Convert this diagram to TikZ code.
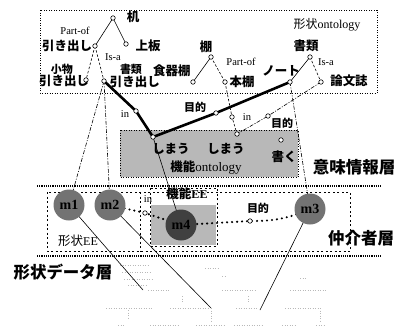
\documentclass[tikz,border=0pt]{standalone}
\usepackage{fontspec}
\setmainfont{Liberation Serif}
\newfontfamily\jp{Noto Sans CJK JP}
\usetikzlibrary{backgrounds}
\pgfdeclarelayer{bgzero}
\pgfsetlayers{bgzero,background,main}
\begin{document}
\begin{tikzpicture}[x=1pt,y=-1pt,
 dot/.style={circle,draw,fill=white,inner sep=0pt,minimum size=4.5pt,line width=0.6pt},
 jl/.style={font=\jp\bfseries\fontsize{12.5}{13}\selectfont,inner sep=0pt},
 js/.style={font=\jp\bfseries\fontsize{11}{12}\selectfont,inner sep=0pt},
 jbig/.style={font=\jp\bfseries\fontsize{16.5}{17}\selectfont,inner sep=0pt},
 sl/.style={font=\fontsize{10.5}{11}\selectfont,inner sep=0pt},
 thinline/.style={line width=0.6pt},
 dd/.style={line width=0.6pt,dash pattern=on 4pt off 1.5pt on 1pt off 1.5pt},
 dsh/.style={line width=0.6pt,dash pattern=on 2.5pt off 1.8pt},
 thickline/.style={line width=2.6pt,line join=round},
 sepline/.style={line width=1.1pt,dash pattern=on 1.2pt off 1pt},
 boxline/.style={line width=0.6pt,dash pattern=on 1pt off 1.5pt},
 eebox/.style={line width=0.6pt,dash pattern=on 2pt off 2.5pt},
 mn/.style={circle,fill=black!55,minimum size=31pt,inner sep=0pt,font=\fontsize{14}{14}\selectfont\bfseries},
 bigdots/.style={line width=2.4pt,line cap=round,dash pattern=on 0pt off 5pt},
 faint/.style={gray!55,line width=0.5pt,dash pattern=on 1pt off 1.5pt},
]
\useasboundingbox (0,0) rectangle (400,327);

% ---------- boxes ----------
\begin{pgfonlayer}{bgzero}
\draw[boxline] (40,10) rectangle (377,93);
\filldraw[fill=black!28,boxline] (120,130) rectangle (298,177);
\draw[sepline] (37,186) -- (382,186);
\draw[sepline] (37,256) -- (382,256);
\draw[eebox] (47,192) rectangle (350,251);
\draw[eebox] (140,192) -- (140,251);
\draw[eebox] (150,188) rectangle (217,246);
\fill[black!28] (151,205) rectangle (216,245);
% faint shape data
\draw[faint] (120,265) -- (150,265) (122,272) -- (152,272) (124,279) -- (154,279) (128,285) -- (146,285);
\draw[faint] (205,268) -- (218,268) (222,276) -- (226,276) (300,278) -- (306,278);
\draw[faint] (148,290) -- (170,290) (222,290) -- (256,290) (290,290) -- (326,290);
\draw[faint] (106,308) -- (152,308) (170,308) -- (208,308) (236,308) -- (258,308) (285,308) -- (322,308);
\draw[faint] (118,325) -- (124,325) (150,325) -- (180,325) (196,325) -- (226,325) (234,325) -- (262,325) (282,325) -- (296,325) (316,325) -- (326,325);
\draw[faint] (211,308) -- (211,322) (320,308) -- (320,322) (128,310) -- (128,318) (182,296) -- (182,302) (248,296) -- (248,302);
\end{pgfonlayer}

% ---------- ontology nodes ----------
\node[dot] (tsukue) at (113,18) {};
\node[dot] (hiki) at (95,46) {};
\node[dot] (uwaita) at (126,44) {};
\node[dot] (kohiki) at (86,80) {};
\node[dot] (shohiki) at (104,81) {};
\node[dot] (tana) at (211,57) {};
\node[dot] (shokki) at (193,82) {};
\node[dot] (hondana) at (225,82) {};
\node[dot] (shorui) at (310,57) {};
\node[dot] (note) at (290,82) {};
\node[dot] (ronbun) at (321,82) {};
\node[dot] (inA) at (136,111) {};
\node[dot] (purA) at (216,113) {};
\node[dot] (inB) at (232,117) {};
\node[dot] (purB) at (268,116) {};
\node[dot] (shimau1) at (153,137) {};
\node[dot] (shimau2) at (237,134) {};
\node[dot] (kaku) at (281,140) {};

% ---------- mediator nodes ----------
\node[mn] (m1) at (69,205) {m1};
\node[mn] (m2) at (110,205) {m2};
\node[mn,fill=black!75] (m4) at (181,225) {m4};
\node[mn] (m3) at (310,209) {m3};
\node[dot] (inM) at (145,213) {};
\node[dot] (purM) at (250,221) {};
\coordinate (b1) at (143,290);
\coordinate (b2) at (211,308);
\coordinate (b3) at (260,310);

% ---------- connectors ----------
\begin{pgfonlayer}{background}
\draw[thinline] (tsukue.center) -- (hiki.center);
\draw[thinline] (tsukue.center) -- (uwaita.center);
\draw[dsh] (hiki.center) -- (kohiki.center);
\draw[dsh] (hiki.center) -- (shohiki.center);
\draw[thinline] (tana.center) -- (shokki.center);
\draw[dsh] (tana.center) -- (hondana.center);
\draw[thinline] (shorui.center) -- (note.center);
\draw[dsh] (shorui.center) -- (ronbun.center);
\draw[thickline] (shohiki.center) -- (inA.center) -- (shimau1.center) -- (purA.center) -- (note.center);
\draw[dd] (shohiki.center) -- (m1.center);
\draw[dd] (shohiki.center) -- (m2.center);
\draw[dd] (note.center) -- (m3.center);
\draw[dsh] (hondana.center) -- (inB.center) -- (shimau2.center);
\draw[dd] (ronbun.center) -- (purB.center) -- (shimau2.center);
\draw[thinline] (shimau1.center) -- (m4.center);
\draw[thinline] (m1.center) -- (b1);
\draw[thinline] (m2.center) -- (b2);
\draw[thinline] (m3.center) -- (b3);
\draw[bigdots] (m2.center) -- (inM.center) -- (m4.center) -- (purM.center) to[bend right=12] (m3.center);
\end{pgfonlayer}

% ---------- labels ----------
\node[jl] (tTsukue) at (133,17) {机};
\node[sl] (tPart1) at (75,31) {Part-of};
\node[jl] (tHiki) at (67,46) {引き出し};
\node[jl] (tUwaita) at (148,46) {上板};
\node[sl] (tIsa1) at (113,57) {Is-a};
\node[js] (tKomono) at (62,69) {小物};
\node[jl] (tKohiki) at (64,81) {引き出し};
\node[js] (tShorui1) at (131,69) {書類};
\node[jl] (tShohiki) at (135,82) {引き出し};
\node[jl] (tShokki) at (172,71) {食器棚};
\node[jl] (tTana) at (206,47) {棚};
\node[sl] (tPart2) at (241,62) {Part-of};
\node[jl] (tHondana) at (242,82) {本棚};
\node[jl] (tShorui2) at (306,46) {書類};
\node (tKeijoOnt) at (327,25) [inner sep=0pt] {{\jp\fontsize{12}{12}\selectfont 形状}{\fontsize{12}{12}\selectfont ontology}};
\node[jl] (tNote) at (281,71) {ノート};
\node[sl] (tIsa2) at (326,62) {Is-a};
\node[jl] (tRonbun) at (349,81) {論文誌};
\node[sl] (tIn1) at (125,114) {in};
\node[js] (tPur1) at (195,107) {目的};
\node[sl] (tIn2) at (247,117) {in};
\node[js] (tPur2) at (282,123) {目的};
\node[jl] (tShimau1) at (171,149) {しまう};
\node[jl] (tShimau2) at (226,149) {しまう};
\node[jl] (tKaku) at (284,157) {書く};
\node (tKinouOnt) at (206,168) [inner sep=0pt] {{\jp\bfseries\fontsize{12.5}{12}\selectfont 機能}{\fontsize{13}{12}\selectfont ontology}};
\node[jbig] (tImi) at (354,167) {意味情報層};
\node (tKinouEE) at (187,194) [inner sep=0pt] {{\jp\bfseries\fontsize{12.5}{12}\selectfont 機能}{\bfseries\fontsize{12}{12}\selectfont EE}};
\node[sl] (tInM) at (148,199) {in};
\node[js] (tPurM) at (258,208) {目的};
\node (tKeijoEE) at (78,241) [inner sep=0pt] {{\jp\fontsize{12.5}{12}\selectfont 形状}{\fontsize{12}{12}\selectfont EE}};
\node[jbig] (tChukai) at (361,238) {仲介者層};
\node[jbig] (tData) at (63,272) {形状データ層};
\end{tikzpicture}
\end{document}
